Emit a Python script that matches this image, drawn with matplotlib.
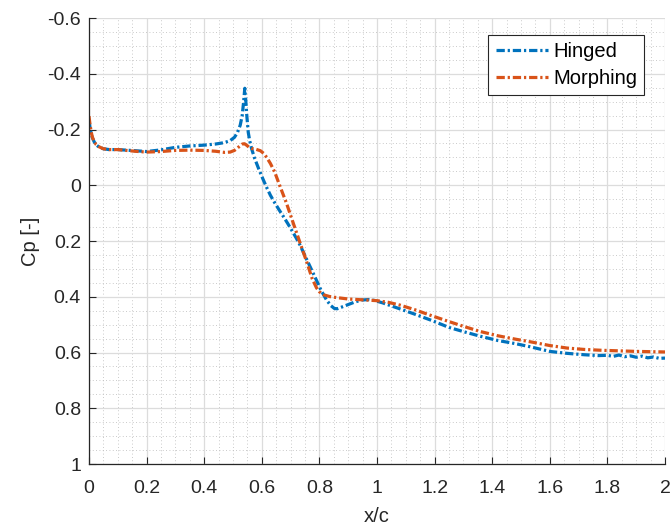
import matplotlib
matplotlib.use("Agg")
import matplotlib.pyplot as plt
from matplotlib.ticker import MultipleLocator, FixedLocator, FixedFormatter

plt.rcParams['font.family'] = ['Liberation Sans', 'DejaVu Sans']

# Pressure coefficient along the chord, hinged flap
x_hinged = [0.000, 0.004, 0.008, 0.012, 0.018, 0.025, 0.035, 0.05, 0.07, 0.10,
            0.13, 0.16, 0.20, 0.25, 0.30, 0.35, 0.40, 0.44, 0.47, 0.49,
            0.505, 0.515, 0.525, 0.532, 0.537, 0.541, 0.544, 0.548, 0.553, 0.558,
            0.565, 0.575, 0.59, 0.605, 0.617, 0.63, 0.645, 0.66, 0.675, 0.69,
            0.705, 0.72, 0.733, 0.76, 0.785, 0.805, 0.825, 0.84, 0.852, 0.862,
            0.875, 0.895, 0.92, 0.945, 0.97, 0.99, 1.02, 1.07, 1.13, 1.19,
            1.25, 1.30, 1.36, 1.42, 1.48, 1.53, 1.60, 1.66, 1.72, 1.77,
            1.80, 1.82, 1.84, 1.86, 1.88, 1.90, 1.92, 1.94, 1.96, 1.98,
            2.00]
cp_hinged = [-0.235, -0.205, -0.185, -0.170, -0.156, -0.145, -0.137, -0.131, -0.128, -0.128,
             -0.126, -0.124, -0.121, -0.127, -0.136, -0.141, -0.144, -0.148, -0.153, -0.160,
             -0.172, -0.188, -0.215, -0.250, -0.300, -0.348, -0.310, -0.250, -0.190, -0.160,
             -0.130, -0.097, -0.057, -0.020, 0.008, 0.036, 0.063, 0.088, 0.112, 0.137,
             0.163, 0.190, 0.215, 0.275, 0.330, 0.375, 0.412, 0.432, 0.442, 0.443,
             0.438, 0.430, 0.420, 0.412, 0.410, 0.413, 0.422, 0.440, 0.462, 0.485,
             0.510, 0.525, 0.542, 0.557, 0.568, 0.579, 0.596, 0.603, 0.608, 0.611,
             0.610, 0.614, 0.609, 0.615, 0.612, 0.617, 0.613, 0.619, 0.616, 0.621,
             0.620]

# Pressure coefficient along the chord, morphing flap
x_morphing = [0.000, 0.004, 0.008, 0.012, 0.018, 0.025, 0.035, 0.05, 0.07, 0.10,
              0.13, 0.16, 0.20, 0.25, 0.30, 0.35, 0.40, 0.44, 0.47, 0.49,
              0.505, 0.515, 0.525, 0.533, 0.540, 0.547, 0.555, 0.565, 0.58, 0.595,
              0.607, 0.617, 0.63, 0.645, 0.663, 0.686, 0.709, 0.733, 0.755, 0.775,
              0.79, 0.80, 0.815, 0.835, 0.86, 0.90, 0.95, 1.00, 1.04, 1.08,
              1.13, 1.19, 1.25, 1.30, 1.36, 1.42, 1.48, 1.54, 1.60, 1.66,
              1.72, 1.78, 1.84, 1.90, 1.95, 2.00]
cp_morphing = [-0.248, -0.215, -0.190, -0.172, -0.157, -0.146, -0.138, -0.131, -0.128, -0.128,
               -0.125, -0.122, -0.119, -0.121, -0.125, -0.126, -0.125, -0.122, -0.118, -0.119,
               -0.125, -0.133, -0.142, -0.148, -0.149, -0.144, -0.137, -0.132, -0.129, -0.124,
               -0.114, -0.100, -0.078, -0.047, 0.003, 0.065, 0.135, 0.207, 0.272, 0.335,
               0.368, 0.382, 0.393, 0.399, 0.403, 0.408, 0.411, 0.414, 0.420, 0.430,
               0.446, 0.468, 0.489, 0.506, 0.525, 0.540, 0.552, 0.563, 0.575, 0.584,
               0.589, 0.592, 0.594, 0.596, 0.597, 0.598]

series_names = ["Hinged", "Morphing"]
x_ticks = [0, 0.2, 0.4, 0.6, 0.8, 1, 1.2, 1.4, 1.6, 1.8, 2]
x_tick_labels = ["0", "0.2", "0.4", "0.6", "0.8", "1", "1.2", "1.4", "1.6", "1.8", "2"]
y_ticks = [-0.6, -0.4, -0.2, 0, 0.2, 0.4, 0.6, 0.8, 1]
y_tick_labels = ["-0.6", "-0.4", "-0.2", "0", "0.2", "0.4", "0.6", "0.8", "1"]

fig = plt.figure(figsize=(6.72, 5.30), dpi=100)
ax = fig.add_axes([0.1324, 0.1245, 0.8572, 0.8415])

dash_dot = (0, (2.6, 0.9, 0.7, 0.9))
ax.plot(x_hinged, cp_hinged, color="#0072BD", lw=2.3, ls=dash_dot, label=series_names[0])
ax.plot(x_morphing, cp_morphing, color="#D95319", lw=2.3, ls=dash_dot, label=series_names[1])

ax.set_xlim(0, 2)
ax.set_ylim(1, -0.6)

ax.xaxis.set_major_locator(FixedLocator(x_ticks))
ax.xaxis.set_major_formatter(FixedFormatter(x_tick_labels))
ax.yaxis.set_major_locator(FixedLocator(y_ticks))
ax.yaxis.set_major_formatter(FixedFormatter(y_tick_labels))
ax.xaxis.set_minor_locator(MultipleLocator(0.05))
ax.yaxis.set_minor_locator(MultipleLocator(0.05))

ax.grid(which="major", color="#dcdcdc", lw=0.9, ls="-")
ax.grid(which="minor", color="#b8b8b8", lw=0.6, ls=(0, (1, 3)))
ax.set_axisbelow(True)

ax.tick_params(which="major", direction="in", length=5, width=0.8, color="#262626",
               labelsize=14, labelcolor="#262626")
ax.tick_params(axis="x", which="major", pad=11.5)
ax.tick_params(axis="y", which="major", pad=5.8)
ax.tick_params(which="minor", length=0)

for side in ("top", "right"):
    ax.spines[side].set_visible(False)
for side in ("left", "bottom"):
    ax.spines[side].set_color("#262626")
    ax.spines[side].set_linewidth(0.9)

ax.set_xlabel("x/c", fontsize=14.5, color="#262626")
ax.set_ylabel("Cp [-]", fontsize=14.5, color="#262626")
ax.xaxis.set_label_coords(0.5, -0.0964)
ax.yaxis.set_label_coords(-0.085, 0.5)

leg = ax.legend(loc="upper right", bbox_to_anchor=(0.9635, 0.962), borderaxespad=0,
                fontsize=14.5, frameon=True, fancybox=False, handlelength=2.6,
                handletextpad=0.25, borderpad=0.35, labelspacing=0.38)
leg.get_frame().set_edgecolor("#262626")
leg.get_frame().set_linewidth(0.8)
leg.get_frame().set_alpha(1)

fig.savefig("out.png", dpi=100)
